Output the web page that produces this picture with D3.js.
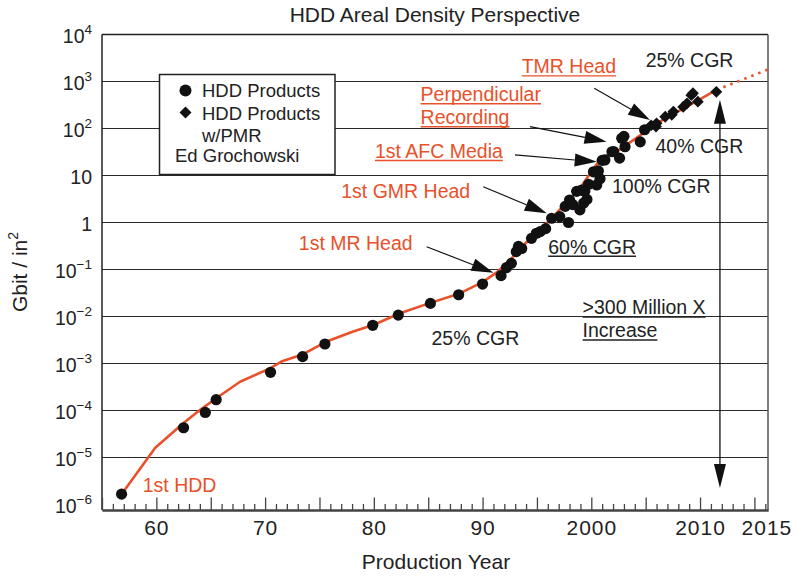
<!DOCTYPE html>
<html>
<head>
<meta charset="utf-8">
<script src="https://cdn.jsdelivr.net/npm/d3@7"></script>
<style>
  body { margin: 0; background: #fff; }
  text { font-family: "Liberation Sans", Arial, Helvetica, sans-serif; }
</style>
</head>
<body>
<svg id="chart" width="797" height="576"></svg>
<script>
// HDD areal density (Gbit/in²) by production year

// Products (circles)
const productYears = [1956.8, 1962.5, 1964.5, 1965.5, 1970.5, 1973.45, 1975.5, 1979.9, 1982.25, 1985.2,
  1987.8, 1990.0, 1991.7, 1992.2, 1992.65, 1993.1, 1993.3, 1993.6, 1994.5, 1994.95,
  1995.3, 1995.8, 1996.35, 1997.1, 1997.6, 1997.9, 1998.0, 1998.3, 1998.65, 1998.95,
  1999.1, 1999.3, 1999.4, 1999.6, 1999.75, 2000.2, 2000.5, 2000.65, 2000.8, 2001.0,
  2001.25, 2001.9, 2002.05, 2002.6, 2002.8, 2003.0, 2003.1, 2004.5, 2004.9];
const productDensity = [1.66e-6, 4.3e-5, 9.1e-5, 1.7e-4, 6.5e-4, 1.4e-3, 2.6e-3, 6.5e-3, 1.07e-2, 1.9e-2,
  2.9e-2, 4.9e-2, 0.074, 0.11, 0.135, 0.24, 0.31, 0.28, 0.46, 0.59,
  0.64, 0.74, 1.23, 1.33, 2.2, 1.0, 3.0, 2.4, 4.6, 1.86,
  4.9, 2.6, 4.6, 3.1, 6.5, 12, 6.3, 12.5, 8.5, 21,
  21.4, 32, 32.4, 23.4, 62, 68, 41, 52, 94];

// Products with perpendicular recording (diamonds)
const pmrYears = [2005.5, 2005.95, 2006.0, 2006.8, 2007.4, 2007.55, 2008.45, 2008.8, 2009.2, 2009.35, 2009.8, 2011.5];
const pmrDensity = [117, 110, 129, 178, 195, 229, 288, 343, 513, 562, 372, 603];

// Trend line and its projection
const trendYears = [1956.8, 1959.9, 1962.5, 1964.0, 1965.5, 1967.7, 1970.45, 1971.5, 1973.5, 1975.6,
  1978.1, 1979.95, 1982.4, 1985.2, 1987.9, 1990.0, 1991.3, 1992.6, 1994.3, 1996.2,
  1997.6, 1999.1, 2000.3, 2000.95, 2002.6, 2005.2, 2006.3, 2009.9, 2011.5];
const trendDensity = [1.66e-6, 1.62e-5, 5.4e-5, 1.02e-4, 1.82e-4, 4.1e-4, 7.9e-4, 1.1e-3, 1.58e-3, 2.9e-3,
  4.8e-3, 6.6e-3, 0.0117, 0.0195, 0.031, 0.054, 0.087, 0.166, 0.44, 1.12,
  2.5, 6.0, 15.1, 23.4, 35.5, 93, 140, 407, 661];
const projectionYears = [2011.5, 2016.2];
const projectionDensity = [661, 1780];

// Axis ticks
const yTickExponents = [4, 3, 2, 1, 0, -1, -2, -3, -4, -5, -6];
const xLabelYears = [1960, 1970, 1980, 1990, 2000, 2010, 2015];
const xLabelText = ["60", "70", "80", "90", "2000", "2010", "2015"];

const orange = "#e8512a";
const svg = d3.select("#chart");

const x = d3.scaleLinear().domain([1955, 2016.25]).range([102, 768]);
const y = d3.scaleLog().domain([Math.pow(10, -6.117), 1e4]).range([510, 34.5]);
const [x0, x1] = x.range();
const [yb, yt] = y.range();

// Title
svg.append("text").attr("x", 435).attr("y", 22).attr("text-anchor", "middle")
  .attr("font-size", 21).attr("fill", "#222").text("HDD Areal Density Perspective");

// Decade grid lines
svg.append("g").selectAll("line")
  .data(yTickExponents.filter(e => e < 4 && e > -6))
  .join("line")
  .attr("x1", x0).attr("x2", x1)
  .attr("y1", e => y(Math.pow(10, e))).attr("y2", e => y(Math.pow(10, e)))
  .attr("stroke", "#2a2a2a").attr("stroke-width", 1.2);

// Frame
svg.append("line").attr("x1", x0).attr("x2", x1).attr("y1", yt).attr("y2", yt)
  .attr("stroke", "#222").attr("stroke-width", 1.5);
svg.append("line").attr("x1", x1).attr("x2", x1).attr("y1", yt).attr("y2", yb)
  .attr("stroke", "#555").attr("stroke-width", 1.5);
svg.append("line").attr("x1", x0).attr("x2", x0).attr("y1", yt).attr("y2", yb)
  .attr("stroke", "#222").attr("stroke-width", 1.5);

// Y tick labels: powers of ten with superscript exponents
const yLabels = svg.append("g").attr("font-size", 19.5).attr("fill", "#222").attr("text-anchor", "end");
yTickExponents.forEach(e => {
  const t = yLabels.append("text").attr("x", 92).attr("y", y(Math.pow(10, e)) + 8);
  if (e === 0) { t.text("1"); return; }
  if (e === 1) { t.text("10"); return; }
  t.append("tspan").text("10");
  t.append("tspan").attr("font-size", 13.5).attr("dy", -9)
    .text(e < 0 ? "\u2212" + Math.abs(e) : String(e));
});

// X axis: minor ticks every year, major every five, pointing inward
const yearTicks = d3.range(1955, 2017);
const xAxisMinor = d3.axisBottom(x).tickValues(yearTicks.filter(v => v % 5 !== 0))
  .tickSizeInner(-6).tickSizeOuter(0).tickFormat("");
const xAxisMajor = d3.axisBottom(x).tickValues(yearTicks.filter(v => v % 5 === 0))
  .tickSizeInner(-12.5).tickSizeOuter(0).tickFormat("");
const gMinor = svg.append("g").attr("transform", `translate(0,${yb})`).call(xAxisMinor);
const gMajor = svg.append("g").attr("transform", `translate(0,${yb})`).call(xAxisMajor);
[gMinor, gMajor].forEach(g => {
  g.select(".domain").attr("stroke", "#444").attr("stroke-width", 1.8);
  g.selectAll(".tick line").attr("stroke", "#444").attr("stroke-width", 1.3);
});
const xAxisLabels = d3.axisBottom(x).tickValues(xLabelYears)
  .tickSize(0).tickPadding(10)
  .tickFormat(d => xLabelText[xLabelYears.indexOf(d)]);
const gLab = svg.append("g").attr("transform", `translate(0,${yb})`).call(xAxisLabels);
gLab.select(".domain").remove();
gLab.selectAll("text").attr("font-size", 21).attr("fill", "#222")
  .attr("font-family", '"Liberation Sans", Arial, sans-serif')
  .attr("letter-spacing", 1)
  .attr("dx", d => d === 2015 ? 12 : 0);

// Axis titles
svg.append("text").attr("x", 436).attr("y", 569).attr("text-anchor", "middle")
  .attr("font-size", 21).attr("fill", "#222").text("Production Year");
const yTitle = svg.append("text").attr("transform", "translate(27,272) rotate(-90)")
  .attr("text-anchor", "middle").attr("font-size", 21).attr("fill", "#222");
yTitle.append("tspan").text("Gbit / in");
yTitle.append("tspan").attr("font-size", 14).attr("dy", -9).text("2");

// Legend
const legend = svg.append("g");
legend.append("rect").attr("x", 159.5).attr("y", 74.5).attr("width", 175.5).attr("height", 100)
  .attr("fill", "#fff").attr("stroke", "#222").attr("stroke-width", 1.5);
legend.append("circle").attr("cx", 185.5).attr("cy", 90.5).attr("r", 6).attr("fill", "#111");
legend.append("path").attr("d", d3.symbol(d3.symbolSquare, 72)())
  .attr("transform", "translate(185.5,112.5) rotate(45)").attr("fill", "#111");
const legText = legend.append("g").attr("font-size", 18.5).attr("fill", "#222");
legText.append("text").attr("x", 202).attr("y", 96.5).text("HDD Products");
legText.append("text").attr("x", 202).attr("y", 119.5).text("HDD Products");
legText.append("text").attr("x", 202).attr("y", 142).text("w/PMR");
legText.append("text").attr("x", 175).attr("y", 161.5).text("Ed Grochowski");

// Trend line and dotted projection
const line = d3.line().x(d => x(d[0])).y(d => y(d[1]));
svg.append("path").datum(d3.zip(trendYears, trendDensity)).attr("d", line)
  .attr("fill", "none").attr("stroke", orange).attr("stroke-width", 2.6).attr("stroke-linejoin", "round");
svg.append("path").datum(d3.zip(projectionYears, projectionDensity)).attr("d", line)
  .attr("fill", "none").attr("stroke", orange).attr("stroke-width", 2.6)
  .attr("stroke-dasharray", "2.5 5");

// Product markers
svg.append("g").selectAll("circle").data(d3.zip(productYears, productDensity)).join("circle")
  .attr("cx", d => x(d[0])).attr("cy", d => y(d[1])).attr("r", 5.6).attr("fill", "#111");
svg.append("g").selectAll("path").data(d3.zip(pmrYears, pmrDensity)).join("path")
  .attr("d", d3.symbol(d3.symbolSquare, 70)())
  .attr("transform", d => `translate(${x(d[0])},${y(d[1])}) rotate(45)`)
  .attr("fill", "#111");

// Annotation labels (anchored in year / density space)
const labels = [
  { lines: ["TMR Head"], year: 1993.6, value: Math.pow(10, 3.18), color: orange, underline: true },
  { lines: ["Perpendicular", "Recording"], year: 1984.3, value: Math.pow(10, 2.585), color: orange, underline: true },
  { lines: ["1st AFC Media"], year: 1980.1, value: Math.pow(10, 1.38), color: orange, underline: true },
  { lines: ["1st GMR Head"], year: 1977.0, value: Math.pow(10, 0.52), color: orange, underline: false },
  { lines: ["1st MR Head"], year: 1973.1, value: Math.pow(10, -0.585), color: orange, underline: false },
  { lines: ["1st HDD"], year: 1958.75, value: Math.pow(10, -5.73), color: orange, underline: false },
  { lines: ["25% CGR"], year: 2005.0, value: Math.pow(10, 3.31), color: "#222", underline: false },
  { lines: ["40% CGR"], year: 2005.9, value: Math.pow(10, 1.47), color: "#222", underline: false },
  { lines: ["100% CGR"], year: 2001.9, value: Math.pow(10, 0.62), color: "#222", underline: false },
  { lines: ["60% CGR"], year: 1996.04, value: Math.pow(10, -0.66), color: "#222", underline: true },
  { lines: [">300 Million X", "Increase"], year: 1999.2, value: Math.pow(10, -1.95), color: "#222", underline: true },
  { lines: ["25% CGR"], year: 1985.3, value: Math.pow(10, -2.61), color: "#222", underline: false }
];
const gLabels = svg.append("g").attr("font-size", 19.5);
labels.forEach(l => {
  l.lines.forEach((s, i) => {
    const bx = x(l.year), by = y(l.value) + i * 23;
    const t = gLabels.append("text").attr("x", bx).attr("y", by).attr("fill", l.color).text(s);
    if (l.underline) {
      const w = t.node().getComputedTextLength();
      gLabels.append("line").attr("x1", bx).attr("x2", bx + w)
        .attr("y1", by + 2.8).attr("y2", by + 2.8)
        .attr("stroke", l.color).attr("stroke-width", 1.4);
    }
  });
});

// Pointer arrows
function arrow(g, xa, ya, xb, yb2, len, half) {
  const dx = xb - xa, dy = yb2 - ya, d = Math.hypot(dx, dy);
  const ux = dx / d, uy = dy / d;
  const bx = xb - ux * len, by = yb2 - uy * len;
  g.append("line").attr("x1", xa).attr("y1", ya).attr("x2", bx).attr("y2", by)
    .attr("stroke", "#111").attr("stroke-width", 1.2);
  g.append("path")
    .attr("d", `M${xb},${yb2}L${bx - uy * half},${by + ux * half}L${bx + uy * half},${by - ux * half}Z`)
    .attr("fill", "#111");
}
const pointers = [
  { from: [2000.27, 2.855], to: [2005.4, 2.18] },
  { from: [1994.36, 2.04], to: [2001.4, 1.72] },
  { from: [1992.98, 1.44], to: [2000.5, 1.29] },
  { from: [1990.06, 0.76], to: [1995.9, 0.196] },
  { from: [1984.86, -0.515], to: [1991.0, -1.07] }
];
const gArrows = svg.append("g");
pointers.forEach(p => arrow(gArrows,
  x(p.from[0]), y(Math.pow(10, p.from[1])), x(p.to[0]), y(Math.pow(10, p.to[1])), 22, 6.5));

// Span of increase: double-headed vertical arrow
const spanYear = 2011.83;
const spanTop = y(Math.pow(10, 2.61)), spanBottom = y(Math.pow(10, -5.65));
const sx = x(spanYear);
gArrows.append("line").attr("x1", sx).attr("x2", sx).attr("y1", spanTop + 20).attr("y2", spanBottom - 20)
  .attr("stroke", "#111").attr("stroke-width", 1.3);
gArrows.append("path").attr("d", `M${sx},${spanTop}L${sx - 6},${spanTop + 24}L${sx + 6},${spanTop + 24}Z`).attr("fill", "#111");
gArrows.append("path").attr("d", `M${sx},${spanBottom}L${sx - 6},${spanBottom - 24}L${sx + 6},${spanBottom - 24}Z`).attr("fill", "#111");
</script>
</body>
</html>
